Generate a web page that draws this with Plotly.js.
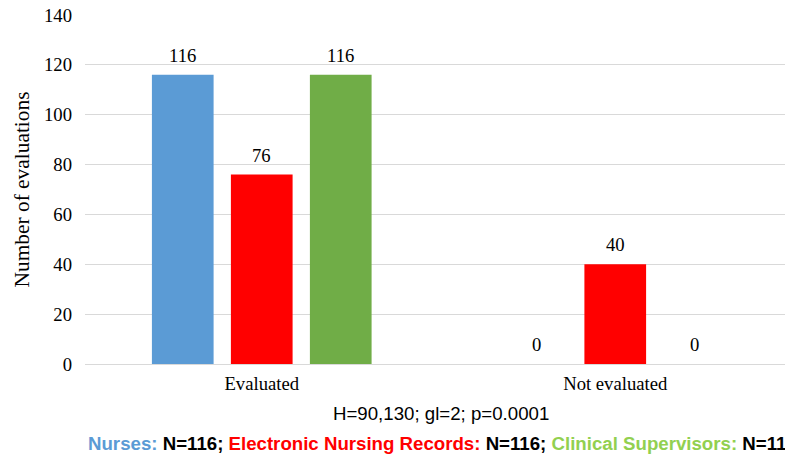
<!DOCTYPE html>
<html>
<head>
<meta charset="utf-8">
<script src="https://cdn.plot.ly/plotly-3.0.1.min.js"></script>
<style>
html,body{margin:0;padding:0;overflow:hidden;background:#fff;}
#chart{width:800px;height:459px;}
</style>
</head>
<body>
<div id="chart"></div>
<script>
var categories = ["Evaluated", "Not evaluated"];
var seriesNames = ["Nurses", "Electronic Nursing Records", "Clinical Supervisors"];
var nursesValues = [116, 0];
var recordsValues = [76, 40];
var supervisorsValues = [116, 0];
var seriesN = [116, 116, 116];
var yTickValues = [0, 20, 40, 60, 80, 100, 120, 140];
var statText = "H=90,130; gl=2; p=0.0001";

var barColors = ["#5B9BD5", "#FF0000", "#70AD47"];
var legendColors = ["#5B9BD5", "#FF0000", "#92D050"];
var allValues = [nursesValues, recordsValues, supervisorsValues];

var serif = "Liberation Serif, Times New Roman, serif";
var sans = "Liberation Sans, Arial, sans-serif";

var traces = allValues.map(function(vals, i) {
  return {
    type: "bar",
    name: seriesNames[i],
    x: categories,
    y: vals,
    marker: {color: barColors[i], line: {width: 0}},
    hoverinfo: "none"
  };
});

var annotations = [];
var slot = 79;
allValues.forEach(function(vals, i) {
  vals.forEach(function(v, j) {
    annotations.push({
      xref: "x", yref: "y",
      x: categories[j], y: v,
      text: String(v),
      showarrow: false,
      xanchor: "center", yanchor: "bottom",
      xshift: (i - 1) * slot,
      yshift: 7,
      font: {family: serif, size: 18.67, color: "#000"}
    });
  });
});

annotations.push({
  xref: "paper", yref: "paper",
  x: 0.5035, y: -0.1418,
  xanchor: "center", yanchor: "middle",
  showarrow: false,
  text: statText,
  font: {family: sans, size: 18.67, color: "#000"}
});

var legendParts = seriesNames.map(function(n, i) {
  return '<span style="color:' + legendColors[i] + '">' + n + ':</span> N=' + seriesN[i];
});
annotations.push({
  xref: "paper", yref: "paper",
  x: 0.0014, y: -0.2278,
  xanchor: "left", yanchor: "middle",
  showarrow: false,
  text: "<b>" + legendParts.join("; ") + "</b>",
  font: {family: sans, size: 18.67, color: "#000"}
});

var layout = {
  width: 800,
  height: 459,
  margin: {l: 85, r: 8, t: 15, b: 95},
  paper_bgcolor: "#fff",
  plot_bgcolor: "#fff",
  showlegend: false,
  barmode: "group",
  bargap: 0.3296,
  bargroupgap: 0.219,
  xaxis: {
    type: "category",
    showgrid: false,
    showline: false,
    zeroline: false,
    ticks: "",
    tickfont: {family: serif, size: 18.67, color: "#000"},
    ticklabelstandoff: 6
  },
  yaxis: {
    range: [0, 140],
    tickvals: yTickValues,
    showgrid: true,
    gridcolor: "#D9D9D9",
    gridwidth: 1,
    zeroline: true,
    zerolinecolor: "#D9D9D9",
    zerolinewidth: 1,
    showline: false,
    ticks: "",
    tickfont: {family: serif, size: 18.67, color: "#000"},
    ticklabelstandoff: 12,
    title: {text: "Number of evaluations", font: {family: serif, size: 21.4, color: "#000"}, standoff: 8}
  },
  annotations: annotations
};

Plotly.newPlot("chart", traces, layout, {displayModeBar: false, staticPlot: true});
</script>
</body>
</html>
